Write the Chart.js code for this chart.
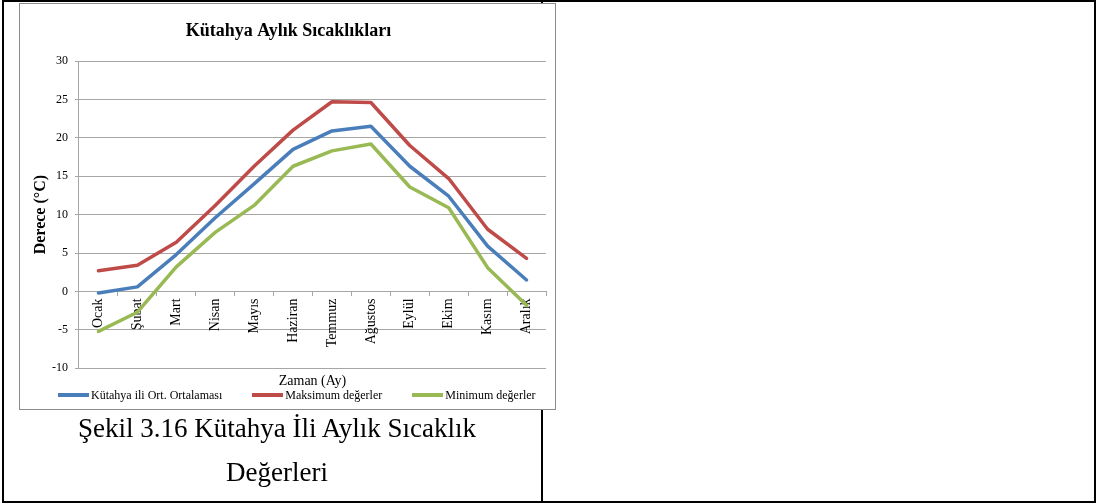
<!DOCTYPE html>
<html lang="tr">
<head>
<meta charset="utf-8">
<title>Kütahya Aylık Sıcaklıkları</title>
<script src="https://cdn.jsdelivr.net/npm/chart.js"></script>
<style>
  body {
    margin: 0;
    background: #fff;
    font-family: 'Liberation Serif', 'Times New Roman', serif;
  }
  .table {
    position: absolute;
    left: 2px;
    top: 0;
    width: 1090px;
    height: 499px;
    border: 2px solid #000;
  }
  .divider {
    position: absolute;
    left: 541px;
    top: 0;
    width: 2px;
    height: 503px;
    background: #000;
  }
  .frame {
    position: absolute;
    left: 19px;
    top: 3px;
    width: 535px;
    height: 405px;
    border: 1px solid #8c8c8c;
    background: #fff;
  }
  #chartKutahya {
    position: absolute;
    left: 20px;
    top: 4px;
  }
  .legend {
    position: absolute;
    left: 58px;
    top: 388px;
    display: flex;
    gap: 30px;
    font-size: 12px;
    line-height: 14px;
    white-space: nowrap;
    color: #000;
  }
  .legend .item {
    display: flex;
    align-items: center;
  }
  .legend .key {
    display: inline-block;
    width: 31px;
    height: 4px;
    margin-right: 2px;
  }
  .caption {
    position: absolute;
    left: 4px;
    width: 546px;
    text-align: center;
    font-size: 27px;
    line-height: 30px;
    color: #000;
  }
</style>
</head>
<body>

  <div class="table"></div>
  <div class="divider"></div>
  <div class="frame"></div>
  <canvas id="chartKutahya" width="535" height="405"></canvas>
  <div class="legend" id="legend"></div>

  <div class="caption" style="top:413px">Şekil 3.16 Kütahya İli Aylık Sıcaklık</div>
  <div class="caption" style="top:457px">Değerleri</div>

  <script>
    // Aylar
    const aylar = ['Ocak', 'Şubat', 'Mart', 'Nisan', 'Mayıs', 'Haziran',
                   'Temmuz', 'Ağustos', 'Eylül', 'Ekim', 'Kasım', 'Aralık'];

    // Sıcaklıklar (°C)
    const ortalama = [-0.2, 0.6, 4.8, 9.6, 14.0, 18.5, 20.9, 21.5, 16.3, 12.4, 5.9, 1.5];
    const maksimum = [2.7, 3.4, 6.4, 11.2, 16.3, 21.0, 24.7, 24.6, 19.0, 14.7, 8.1, 4.3];
    const minimum  = [-5.2, -2.7, 3.2, 7.7, 11.2, 16.3, 18.3, 19.2, 13.6, 10.9, 3.1, -1.8];

    const yTicks = { min: -10, max: 30, step: 5 };

    const serif = "'Liberation Serif', 'Times New Roman', serif";
    const gridColor = '#a6a6a6';

    const chart = new Chart(document.getElementById('chartKutahya'), {
      type: 'line',
      data: {
        labels: aylar,
        datasets: [
          { label: 'Kütahya ili Ort. Ortalaması', data: ortalama, borderColor: '#4a7ebb' },
          { label: 'Maksimum değerler', data: maksimum, borderColor: '#be4b48' },
          { label: 'Minimum değerler', data: minimum, borderColor: '#98b954' }
        ]
      },
      options: {
        responsive: false,
        animation: false,
        layout: { padding: { left: 11, right: 9, top: 0, bottom: 40.7 } },
        elements: {
          line: { borderWidth: 3.5, tension: 0, borderJoinStyle: 'round', borderCapStyle: 'round' },
          point: { radius: 0 }
        },
        scales: {
          x: {
            position: { y: 0 },
            offset: true,
            grid: { display: true, drawOnChartArea: false, drawTicks: true, tickLength: 4, offset: true, color: gridColor },
            border: { display: true, color: gridColor },
            ticks: {
              autoSkip: false, minRotation: 90, maxRotation: 90, padding: 3,
              color: '#000', font: { family: serif, size: 14 }
            },
            title: {
              display: true, text: 'Zaman (Ay)', color: '#000',
              font: { family: serif, size: 14 }, padding: { top: 22.5, bottom: 0 }
            }
          },
          y: {
            min: yTicks.min,
            max: yTicks.max,
            grid: { color: gridColor, tickLength: 4 },
            border: { color: gridColor },
            ticks: { stepSize: yTicks.step, padding: 7, color: '#000', font: { family: serif, size: 12 } },
            title: {
              display: true, text: 'Derece (°C)', color: '#000',
              font: { family: serif, size: 16, weight: 'bold' }, padding: { top: 0.4, bottom: -5.6 }
            }
          }
        },
        plugins: {
          title: {
            display: true, text: 'Kütahya Aylık Sıcaklıkları', color: '#000',
            font: { family: serif, size: 18, weight: 'bold' },
            padding: { top: 17, bottom: 18.4 }
          },
          legend: { display: false },
          tooltip: { enabled: false }
        }
      }
    });

    // Lejant (Excel tarzı, grafiğin altında)
    const legend = document.getElementById('legend');
    chart.data.datasets.forEach(ds => {
      const item = document.createElement('div');
      item.className = 'item';
      const key = document.createElement('span');
      key.className = 'key';
      key.style.background = ds.borderColor;
      item.appendChild(key);
      item.appendChild(document.createTextNode(ds.label));
      legend.appendChild(item);
    });
  </script>

</body>
</html>
